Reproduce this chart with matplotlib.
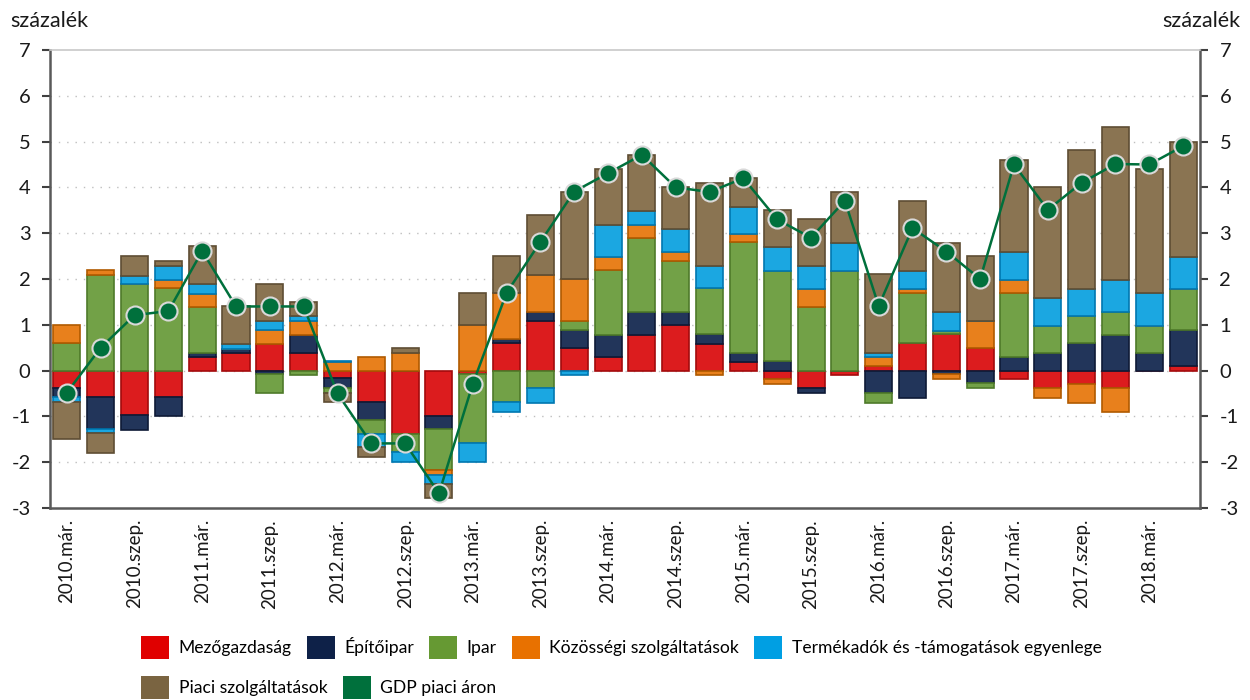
import numpy as np
import matplotlib.pyplot as plt
from matplotlib.patches import Patch

plt.rcParams['font.family'] = ['Lato', 'DejaVu Sans']
plt.rcParams['axes.unicode_minus'] = False

# negyedéves adatok, 2010 Q1 - 2018 Q2
years = list(range(2010, 2019))
tick_labels = []
for y in years:
    tick_labels += [f'{y}.már.', '', f'{y}.szep.', '']
tick_labels = tick_labels[:34]

mezogazdasag = [-0.39, -0.58, -0.97, -0.58, 0.29, 0.38, 0.58, 0.39, -0.17, -0.68,
                -1.38, -0.99, -0.07, 0.60, 1.09, 0.49, 0.29, 0.78, 1.00, 0.58,
                0.19, -0.19, -0.39, -0.09, 0.09, 0.60, 0.79, 0.49, -0.19, -0.39,
                -0.29, -0.39, 0.00, 0.09]
epitoipar = [-0.18, -0.70, -0.33, -0.42, 0.09, 0.10, -0.07, 0.39, -0.20, -0.40,
             0.00, -0.29, 0.00, 0.08, 0.20, 0.40, 0.49, 0.51, 0.29, 0.21,
             0.20, 0.20, -0.11, 0.00, -0.48, -0.60, -0.07, -0.28, 0.29, 0.39,
             0.60, 0.78, 0.38, 0.80]
ipar = [0.60, 2.09, 1.88, 1.80, 1.00, 0.00, -0.43, -0.10, -0.11, -0.30,
        -0.40, -0.90, -1.52, -0.68, -0.39, 0.19, 1.42, 1.60, 1.11, 1.01,
        2.41, 1.98, 1.38, 2.18, -0.22, 1.09, 0.08, -0.11, 1.40, 0.59,
        0.59, 0.51, 0.60, 0.89]
kozossegi = [0.40, 0.11, 0.00, 0.18, 0.29, 0.00, 0.31, 0.31, 0.19, 0.30,
             0.39, -0.10, 1.00, 1.02, 0.80, 0.92, 0.28, 0.29, 0.18, -0.10,
             0.18, -0.10, 0.40, 0.00, 0.20, 0.09, -0.12, 0.59, 0.29, -0.20,
             -0.41, -0.51, 0.00, 0.00]
termekado = [-0.11, -0.09, 0.19, 0.31, 0.22, 0.10, 0.20, 0.10, 0.03, -0.29,
             -0.21, -0.20, -0.41, -0.22, -0.31, -0.09, 0.70, 0.31, 0.51, 0.49,
             0.60, 0.51, 0.51, 0.60, 0.09, 0.40, 0.42, 0.00, 0.61, 0.60,
             0.59, 0.69, 0.71, 0.71]
piaci = [-0.82, -0.42, 0.43, 0.11, 0.82, 0.83, 0.81, 0.31, -0.20, -0.22,
         0.11, -0.30, 0.70, 0.80, 1.31, 1.91, 1.22, 1.22, 0.91, 1.81,
         0.62, 0.82, 1.01, 1.13, 1.73, 1.52, 1.50, 1.42, 2.01, 2.42,
         3.03, 3.33, 2.71, 2.51]
gdp = [-0.48, 0.50, 1.21, 1.30, 2.61, 1.40, 1.40, 1.40, -0.50, -1.59,
       -1.59, -2.68, -0.29, 1.70, 2.81, 3.91, 4.31, 4.71, 4.00, 3.90,
       4.20, 3.30, 2.90, 3.71, 1.41, 3.11, 2.60, 2.00, 4.50, 3.51,
       4.10, 4.51, 4.50, 4.90]

series = [
    ('Mezőgazdaság', mezogazdasag, '#DC1C1E', '#A30A0C', '#E00000'),
    ('Építőipar', epitoipar, '#22355A', '#0E1A36', '#0E2148'),
    ('Ipar', ipar, '#72A147', '#4E7A2A', '#669933'),
    ('Közösségi szolgáltatások', kozossegi, '#E8801C', '#B05A00', '#E87100'),
    ('Termékadók és -támogatások egyenlege', termekado, '#1BA7E1', '#0077B0', '#009FE3'),
    ('Piaci szolgáltatások', piaci, '#8A7452', '#5E4D33', '#7A6441'),
]

x = np.arange(len(gdp))
fig = plt.figure(figsize=(12.5, 7), dpi=100)
ax = fig.add_axes([0.04, 0.2743, 0.92, 0.6543])

pos = np.zeros(len(x))
neg = np.zeros(len(x))
for name, vals, fc, ec, _ in series:
    v = np.array(vals)
    bottom = np.where(v >= 0, pos, neg)
    ax.bar(x, v, 0.8, bottom=bottom, color=fc, edgecolor=ec, linewidth=1.2, zorder=3)
    pos = pos + np.where(v >= 0, v, 0)
    neg = neg + np.where(v < 0, v, 0)

ax.plot(x, gdp, color='#00703C', lw=1.8, marker='o', ms=13,
        markerfacecolor='#00703C', markeredgecolor='#D9D9D9', markeredgewidth=1.5, zorder=4)

ax.set_xlim(-0.5, len(x) - 0.5)
ax.set_ylim(-3, 7)
ax.set_yticks(range(-3, 8))
for yv in range(-2, 7):
    ax.axhline(yv, color='#BFBFBF', lw=1, ls=(0, (1, 5)), zorder=1)

ax.set_xticks(x)
ax.set_xticklabels(tick_labels, rotation=90, fontsize=13.5, color='#1A1A1A')
ax.tick_params(axis='x', length=0, pad=8)
ax.tick_params(axis='y', labelsize=14.5, length=6, width=1.5, color='#404040', labelcolor='#1A1A1A',
               left=True, right=True, labelleft=True, labelright=True, direction='out', pad=8)
for s in ['left', 'right', 'bottom']:
    ax.spines[s].set_color('#595959')
    ax.spines[s].set_linewidth(1.8)
ax.spines['top'].set_color('#C8C8C8')
ax.spines['top'].set_linewidth(1.2)

fig.text(0.008, 0.97, 'százalék', fontsize=15.5, color='#1A1A1A', ha='left', va='center')
fig.text(0.992, 0.97, 'százalék', fontsize=15.5, color='#1A1A1A', ha='right', va='center')

h1 = [Patch(facecolor=c, edgecolor='none') for _, _, _, _, c in series[:5]]
l1 = [s[0] for s in series[:5]]
h2 = [Patch(facecolor=series[5][4], edgecolor='none'), Patch(facecolor='#00703C', edgecolor='none')]
l2 = [series[5][0], 'GDP piaci áron']
kw = dict(frameon=False, fontsize=12.6, handlelength=1.6, handleheight=1.6,
          columnspacing=0.85, handletextpad=0.55, borderaxespad=0, borderpad=0)
fig.legend(h1, l1, loc='center left', bbox_to_anchor=(0.113, 0.075), ncol=5, **kw)
fig.legend(h2, l2, loc='center left', bbox_to_anchor=(0.113, 0.018), ncol=2, **kw)

fig.savefig('out.png', dpi=100)
